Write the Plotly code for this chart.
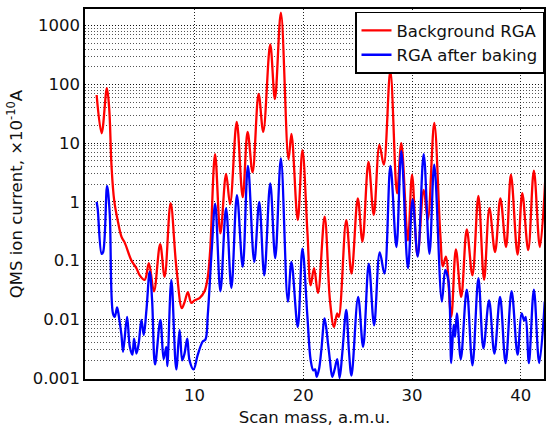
import plotly.graph_objects as go

# Background RGA (red)
red_x = [1.0, 1.46, 1.94, 2.15, 2.37, 2.61, 2.98, 3.3, 3.59, 4.2, 4.66, 4.96, 5.42, 5.8, 6.27, 6.84, 7.25, 7.8,
         8.32, 8.84, 9.1, 9.39, 9.7, 10.0, 10.46, 10.92, 11.22, 11.44, 11.89, 12.38, 12.9, 13.27, 13.88, 14.43,
         14.88, 15.34, 15.89, 16.32, 16.96, 17.39, 17.94, 18.64, 18.91, 19.49, 19.92, 20.38, 20.68, 20.99, 21.35,
         21.96, 22.45, 22.82, 23.12, 23.27, 23.95, 24.43, 25.01, 25.44, 25.99, 26.48, 27.0, 27.4, 28.0, 28.62,
         29.01, 29.62, 30.0, 30.5, 31.07, 31.45, 32.04, 32.59, 32.84, 33.11, 33.6, 34.03, 34.52, 35.03, 35.55,
         36.1, 36.62, 37.11, 37.63, 38.12, 38.64, 39.09, 39.7, 40.13, 40.68, 41.2, 41.75, 42.25]
red_y = [66, 14.7, 86, 40, 4.0, 1.07, 0.44, 0.25, 0.2, 0.1, 0.074, 0.056, 0.047, 0.09, 0.03, 0.19, 0.053, 0.95,
         0.08, 0.0155, 0.02, 0.029, 0.019, 0.021, 0.023, 0.03, 0.053, 0.15, 6.5, 0.29, 3.0, 0.91, 23, 1.2,
         15.5, 3.2, 69, 15.5, 480, 56, 1670, 5.3, 14.3, 0.49, 7.6, 0.3, 0.038, 0.074, 0.028,
         0.56, 0.021, 0.0074, 0.0126, 0.011, 0.49, 0.06, 1.15, 0.21, 4.8, 0.6, 9.3, 4.3, 170, 1.4,
         10, 0.22, 2.9, 0.12, 1.6, 0.5, 22, 0.29, 0.08, 0.117, 0.011, 0.155, 0.024, 0.34, 0.056,
         1.26, 0.047, 0.78, 0.14, 1.15, 0.17, 2.9, 0.126, 1.4, 0.15, 3.4, 0.17, 2.5]

# RGA after baking (blue)
blue_x = [1.0, 1.1, 1.46, 1.6, 1.96, 2.2, 2.5, 2.67, 2.88, 3.05, 3.28, 3.43, 3.8, 4.05, 4.29, 4.44, 4.66, 4.87,
          5.12, 5.33, 5.58, 5.88, 6.1, 6.37, 6.86, 7.16, 7.4, 7.5, 7.87, 8.32, 8.63, 8.87, 9.08, 9.33, 9.54,
          9.91, 10.3, 10.76, 11.0, 11.22, 11.58, 11.9, 12.38, 12.9, 13.39, 13.9, 14.43, 14.91, 15.49, 15.95,
          16.41, 16.96, 17.42, 17.94, 18.58, 18.91, 19.49, 19.92, 20.38, 20.68, 20.92, 21.08, 21.23, 21.44,
          21.66, 21.96, 22.27, 22.45, 22.66, 22.88, 23.12, 23.34, 23.58, 23.95, 24.19, 24.43, 25.04, 25.5,
          26.02, 26.51, 27.03, 27.46, 28.01, 28.56, 29.01, 29.62, 30.05, 30.52, 31.07, 31.6, 32.04, 32.74,
          33.05, 33.35, 33.6, 33.82, 33.95, 34.12, 34.48, 35.03, 35.55, 36.1, 36.56, 37.08, 37.57, 38.09,
          38.6, 39.15, 39.7, 40.07, 40.31, 40.45, 40.74, 41.2, 41.69, 42.2]
blue_y = [1.0, 0.75, 0.13, 0.14, 1.86, 0.65, 0.0126, 0.011, 0.016, 0.011, 0.0054, 0.0028, 0.011, 0.0034,
          0.0025, 0.0047, 0.0026, 0.0039, 0.0098, 0.0054, 0.0145, 0.065, 0.021, 0.0017, 0.0098, 0.0021,
          0.0034, 0.0016, 0.047, 0.0014, 0.0066, 0.002, 0.0026, 0.0047, 0.002, 0.0014, 0.0025, 0.0042,
          0.0045, 0.012, 0.15, 0.93, 0.03, 0.78, 0.034, 1.3, 0.078, 4.1, 0.095, 1.0, 0.056, 2.07, 0.11, 5.5,
          0.02, 0.095, 0.0074, 0.16, 0.011, 0.002, 0.00135, 0.0014, 0.00105, 0.0014, 0.003, 0.0104, 0.0039,
          0.002, 0.00105, 0.0014, 0.0021, 0.001, 0.0026, 0.0145, 0.003, 0.0011, 0.024, 0.0034, 0.089,
          0.0079, 0.138, 0.06, 4.1, 0.17, 7.3, 0.074, 1.1, 0.117, 6.5, 0.13, 4.3, 0.02, 0.069, 0.044,
          0.0018, 0.008, 0.005, 0.0126, 0.0021, 0.032, 0.00165, 0.05, 0.0032, 0.021, 0.0026, 0.024, 0.0018,
          0.03, 0.0025, 0.0126, 0.0095, 0.011, 0.0018, 0.032, 0.0018, 0.02]

x_ticks = [10, 20, 30, 40]
y_ticks = [0.001, 0.01, 0.1, 1, 10, 100, 1000]
y_ticktext = ["0.001", "0.01", "0.1", "1", "10", "100", "1000"]
y_minor = [m * d for d in [0.001, 0.01, 0.1, 1, 10, 100, 1000] for m in range(2, 10)]

FONT = "DejaVu Sans"
FS = 16.5

fig = go.Figure()
fig.add_trace(go.Scatter(x=red_x, y=red_y, mode="lines", name="Background RGA",
                         line=dict(color="#ff0000", width=2.3, shape="spline", smoothing=1.0)))
fig.add_trace(go.Scatter(x=blue_x, y=blue_y, mode="lines", name="RGA after baking",
                         line=dict(color="#0000ff", width=2.3, shape="spline", smoothing=1.0)))

fig.update_layout(
    width=547, height=427,
    margin=dict(l=85, r=1, t=9, b=48),
    paper_bgcolor="white", plot_bgcolor="white",
    font=dict(family=FONT, size=FS, color="#111"),
    showlegend=True,
    legend=dict(x=1, xanchor="right", y=0.993, yanchor="top",
                bgcolor="white", bordercolor="black", borderwidth=1.5,
                font=dict(family=FONT, size=FS), tracegroupgap=0,
                itemwidth=30),
    xaxis=dict(range=[-0.07, 42.13], tickvals=x_ticks, showgrid=True,
               gridcolor="#222", griddash="1px,2px", gridwidth=1,
               showline=True, linecolor="black", linewidth=1.5, mirror=True,
               ticks="", zeroline=False,
               title=dict(text="Scan mass, a.m.u.", font=dict(size=FS), standoff=10),
               tickfont=dict(size=FS)),
    yaxis=dict(type="log", range=[-3.017, 3.284], tickvals=y_ticks, ticktext=y_ticktext,
               showgrid=True, gridcolor="#111", griddash="1px,2px", gridwidth=1,
               minor=dict(tickvals=y_minor, showgrid=True, gridcolor="#555", griddash="1px,2px", gridwidth=1),
               showline=True, linecolor="black", linewidth=1.5, mirror=True,
               ticks="", zeroline=False,
               title=dict(text="QMS ion current, ×10<sup>-10</sup>A", font=dict(size=FS), standoff=6),
               tickfont=dict(size=FS)),
)

fig.write_html("out.html")
